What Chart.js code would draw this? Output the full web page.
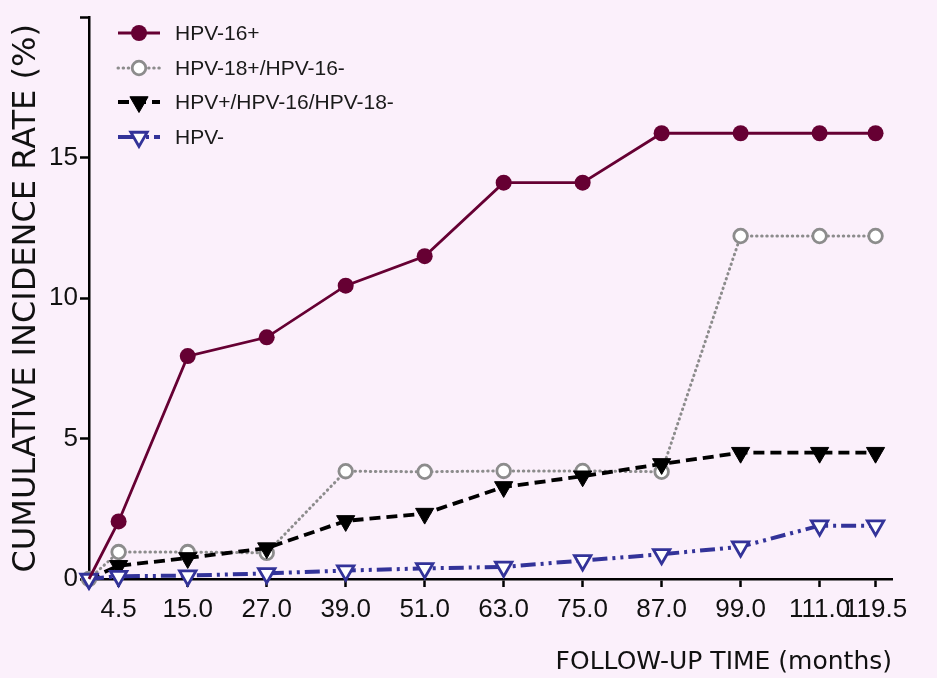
<!DOCTYPE html>
<html>
<head>
<meta charset="utf-8">
<script src="https://cdn.jsdelivr.net/npm/chart.js@4/dist/chart.umd.min.js"></script>
<style>
  html, body { margin: 0; padding: 0; background: #fbf0fb; }
  #wrap { width: 937px; height: 678px; }
</style>
</head>
<body>
<div id="wrap"><canvas id="c" width="937" height="678"></canvas></div>
<script>
// Follow-up time points (months)
const months = [0, 4.5, 15.0, 27.0, 39.0, 51.0, 63.0, 75.0, 87.0, 99.0, 111.0, 119.5];
const xTickValues = [4.5, 15.0, 27.0, 39.0, 51.0, 63.0, 75.0, 87.0, 99.0, 111.0, 119.5];
const yTickValues = [0, 5, 10, 15, 20];

// Cumulative incidence rate (%) per group
const hpv16 = [0, 2.05, 7.94, 8.61, 10.45, 11.5, 14.12, 14.12, 15.88, 15.88, 15.88, 15.88];
const hpv18 = [0, 0.96, 0.96, 0.93, 3.84, 3.82, 3.85, 3.85, 3.82, 12.22, 12.22, 12.22];
const hpvOther = [0, 0.47, 0.75, 1.1, 2.07, 2.33, 3.28, 3.66, 4.1, 4.5, 4.5, 4.5];
const hpvNeg = [0, 0.1, 0.12, 0.2, 0.3, 0.38, 0.43, 0.66, 0.88, 1.15, 1.9, 1.9];

const seriesNames = ['HPV-16+', 'HPV-18+/HPV-16-', 'HPV+/HPV-16/HPV-18-', 'HPV-'];

const toPoints = arr => arr.map((v, i) => ({ x: months[i], y: v }));

const datasets = [
  {
    label: seriesNames[0], data: toPoints(hpv16), order: 0,
    borderColor: '#660033', backgroundColor: '#660033', borderWidth: 2.8,
    pointStyle: 'circle', pointRadius: hpv16.map((v, i) => i === 0 ? 0 : 8),
    pointBorderWidth: 0, pointBackgroundColor: '#660033', pointBorderColor: '#660033'
  },
  {
    label: seriesNames[1], data: toPoints(hpv18), order: 3,
    borderColor: '#8c8c8c', backgroundColor: '#ffffff', borderWidth: 3,
    borderDash: [0.5, 4.6], borderCapStyle: 'round',
    pointStyle: 'circle', pointRadius: 6.8, pointBorderWidth: 2.8,
    pointBackgroundColor: '#ffffff', pointBorderColor: '#8c8c8c'
  },
  {
    label: seriesNames[2], data: toPoints(hpvOther), order: 2,
    borderColor: '#000000', backgroundColor: '#000000', borderWidth: 3.8,
    borderDash: [11, 6],
    pointStyle: 'triangle', rotation: 180, pointRadius: 10.5, pointBorderWidth: 1,
    pointBackgroundColor: '#000000', pointBorderColor: '#000000'
  },
  {
    label: seriesNames[3], data: toPoints(hpvNeg), order: 1,
    borderColor: '#333399', backgroundColor: '#ffffff', borderWidth: 4,
    borderDash: [15, 5, 3, 5, 3, 5],
    pointStyle: 'triangle', rotation: 180, pointRadius: 9.5, pointBorderWidth: 2.8,
    pointBackgroundColor: '#ffffff', pointBorderColor: '#333399'
  }
];

// Legend: a short line sample in each series' style with its marker, then the label
const legendPlugin = {
  id: 'lineLegend',
  afterDraw(chart) {
    const ctx = chart.ctx;
    const x0 = 118, x1 = 160, xm = 139, xt = 175;
    const rows = [33, 68, 102, 137];
    chart.data.datasets.forEach((ds, i) => {
      const y = rows[i];
      ctx.save();
      ctx.strokeStyle = ds.borderColor;
      ctx.lineWidth = ds.borderWidth;
      ctx.lineCap = ds.borderCapStyle || 'butt';
      ctx.setLineDash(ds.borderDash || []);
      ctx.beginPath();
      ctx.moveTo(x0, y);
      ctx.lineTo(x1, y);
      ctx.stroke();
      ctx.setLineDash([]);
      ctx.fillStyle = ds.pointBackgroundColor;
      ctx.strokeStyle = ds.pointBorderColor;
      ctx.lineWidth = ds.pointBorderWidth;
      const r = Array.isArray(ds.pointRadius) ? ds.pointRadius[ds.pointRadius.length - 1] : ds.pointRadius;
      Chart.helpers.drawPoint(ctx, {
        pointStyle: ds.pointStyle, rotation: ds.rotation || 0,
        radius: r, borderWidth: ds.pointBorderWidth
      }, xm, y);
      ctx.fillStyle = '#1a1a1a';
      ctx.font = '21px "Liberation Sans", Arial, sans-serif';
      ctx.textBaseline = 'middle';
      ctx.textAlign = 'left';
      ctx.fillText(ds.label, xt, y + 1);
      ctx.restore();
    });
  }
};

const bgPlugin = {
  id: 'bg',
  beforeDraw(chart) {
    const ctx = chart.ctx;
    ctx.save();
    ctx.fillStyle = '#fbf0fb';
    ctx.fillRect(0, 0, chart.width, chart.height);
    ctx.restore();
  }
};

new Chart(document.getElementById('c'), {
  type: 'line',
  data: { datasets },
  plugins: [bgPlugin, legendPlugin],
  options: {
    responsive: false,
    animation: false,
    clip: false,
    layout: { padding: { top: 17, right: 45, left: 0, bottom: 0 } },
    plugins: { legend: { display: false }, tooltip: { enabled: false } },
    elements: { line: { tension: 0 } },
    scales: {
      x: {
        type: 'linear', min: 0, max: 122,
        afterBuildTicks: s => { s.ticks = xTickValues.map(v => ({ value: v })); },
        afterFit: s => { s.height = 99; },
        grid: { display: true, drawOnChartArea: false, drawTicks: true, tickLength: 8, tickWidth: 2.5, tickColor: '#000' },
        border: { display: true, color: '#000', width: 2.5 },
        ticks: {
          autoSkip: false, maxRotation: 0, minRotation: 0, padding: 7,
          color: '#111', font: { family: '"Liberation Sans", Arial, sans-serif', size: 26 },
          callback: v => Number(v).toFixed(1)
        },
        title: {
          display: true, text: 'FOLLOW-UP TIME (months)', align: 'end',
          color: '#111', font: { family: '"DejaVu Sans", sans-serif', size: 25 },
          padding: { top: 0, bottom: 1 }
        }
      },
      y: {
        type: 'linear', min: 0, max: 20,
        afterBuildTicks: s => { s.ticks = yTickValues.map(v => ({ value: v })); },
        afterFit: s => { s.width = 89; },
        grid: { display: true, drawOnChartArea: false, drawTicks: true, tickLength: 9, tickWidth: 2.5, tickColor: '#000' },
        border: { display: true, color: '#000', width: 2.5 },
        ticks: {
          padding: 2, color: '#111',
          font: { family: '"Liberation Sans", Arial, sans-serif', size: 26 },
          callback: v => v === 20 ? '' : String(v)
        },
        title: {
          display: true, text: 'CUMULATIVE INCIDENCE RATE (%)',
          color: '#111', font: { family: '"DejaVu Sans", sans-serif', size: 32 },
          padding: { top: 7, bottom: 0 }
        }
      }
    }
  }
});
</script>
</body>
</html>
